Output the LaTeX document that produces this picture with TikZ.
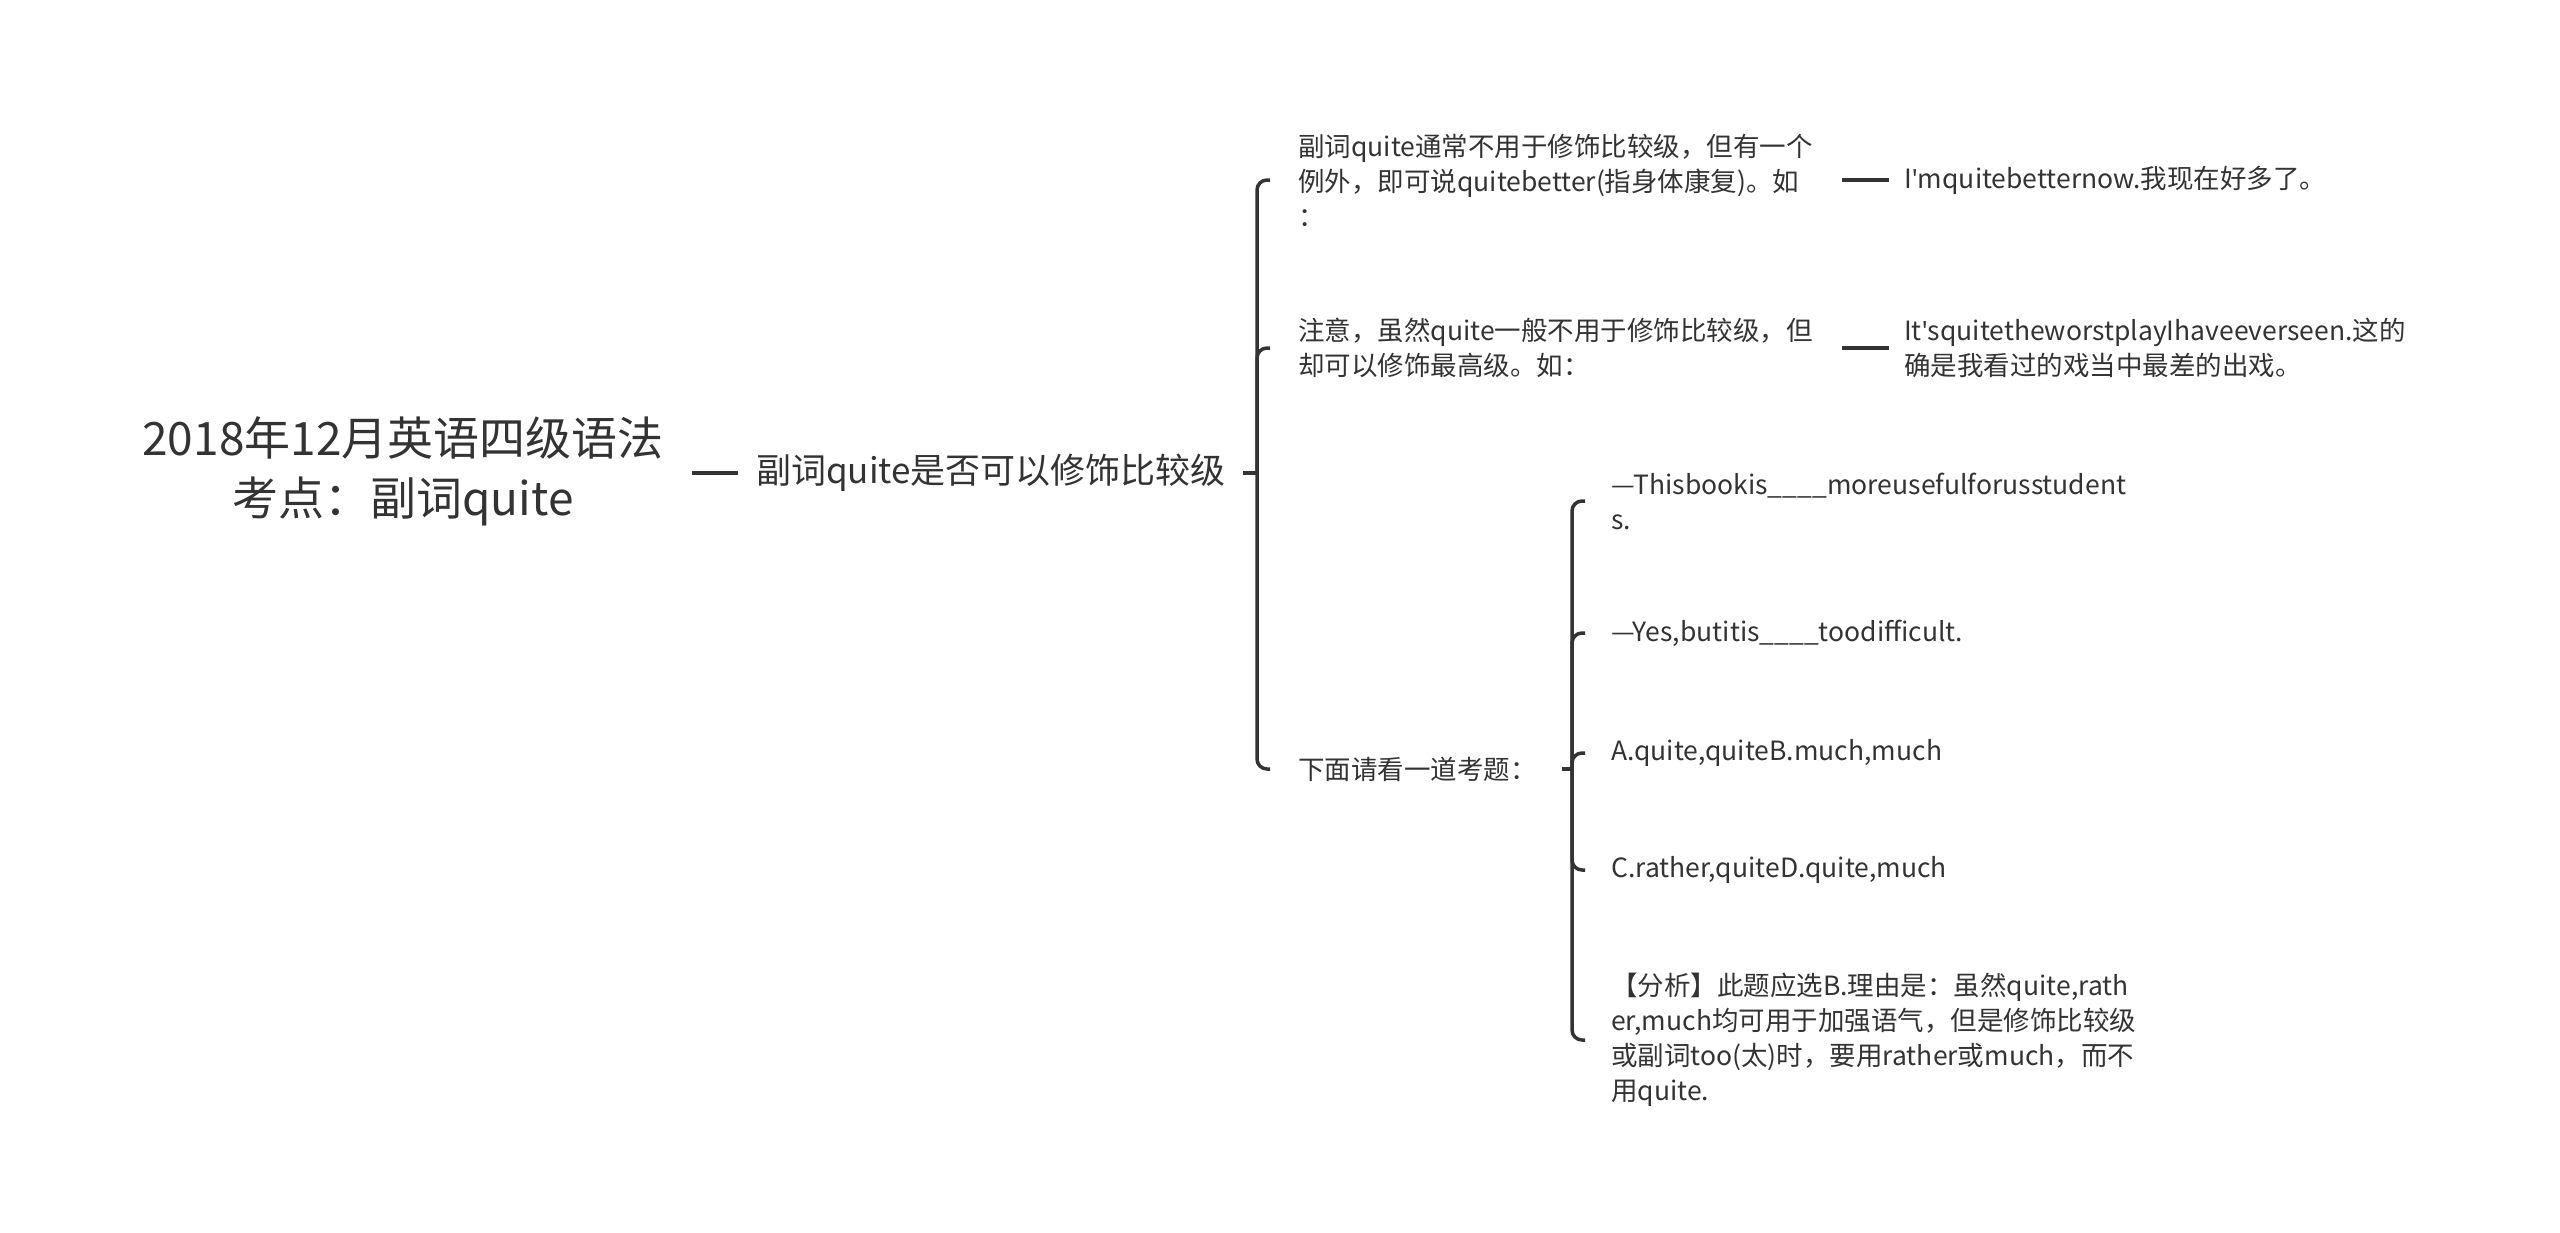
\documentclass[tikz,border=0pt]{standalone}
\usepackage{fontspec}
\setmainfont{Noto Sans CJK SC}
\newfontfamily\latinfont{Noto Sans}
\usetikzlibrary{positioning}
\definecolor{inkgray}{HTML}{333333}

\newcommand{\apos}{{\latinfont'}}

\tikzset{
  edge/.style={draw=inkgray, line width=3.5pt},
  fork/.style={edge, rounded corners=10pt},
  topic/.style={inner sep=0pt, text=inkgray, align=center, font=\fontsize{46}{60}\selectfont},
  branch/.style={inner sep=0pt, text=inkgray, anchor=west, align=left, font=\fontsize{35}{42}\selectfont},
  leaf/.style={inner sep=0pt, text=inkgray, anchor=west, align=left, font=\fontsize{26.5}{35}\selectfont},
  wideleaf/.style={leaf, text width=514pt},
}

\begin{document}
\begin{tikzpicture}[x=1pt, y=-1pt]
    \useasboundingbox (0,0) rectangle (2560,1232);
    % Root and first branch
    \node[topic] (root) at (403,471) {2018年12月英语四级语法\\考点：副词quite};
    \node[branch] (main) at (756,473) {副词quite是否可以修饰比较级};
    % Second level
    \node[wideleaf] (note1) at (1298,180) {副词quite通常不用于修饰比较级，但有一个\\例外，即可说quitebetter(指身体康复)。如\\：};
    \node[wideleaf] (note2) at (1298,348) {注意，虽然quite一般不用于修饰比较级，但\\却可以修饰最高级。如：};
    \node[leaf] (quiz) at (1298,769) {下面请看一道考题：};
    % Examples
    \node[leaf] (ex1) at (1904,180) {I\apos mquitebetternow.我现在好多了。};
    \node[leaf] (ex2) at (1904,348) {It\apos squitetheworstplayIhaveeverseen.这的\\确是我看过的戏当中最差的出戏。};
    % Quiz items
    \node[leaf] (q1) at (1611,501) {—Thisbookis\_\_\_\_moreusefulforusstudent\\s.};
    \node[leaf] (q2) at (1611,633) {—Yes,butitis\_\_\_\_toodifficult.};
    \node[leaf] (q3) at (1611,753) {A.quite,quiteB.much,much};
    \node[leaf] (q4) at (1611,870) {C.rather,quiteD.quite,much};
    \node[leaf] (q5) at (1611,1040) {【分析】此题应选B.理由是：虽然quite,rath\\er,much均可用于加强语气，但是修饰比较级\\或副词too(太)时，要用rather或much，而不\\用quite.};
    % Bracket points
    \coordinate (fork1) at (1257,473);
    \coordinate (fork2) at (1572,769);
    % Connectors
    \draw[edge] ([xshift=28]root.east |- main.west) -- ([xshift=-18]main.west);
    \draw[edge] ([xshift=17]main.east) -- (fork1);
    \foreach \n in {note1,note2,quiz}
        \draw[fork] (fork1) |- ([xshift=-28]\n.west);
    \draw[edge] ([xshift=30]note1.east) -- ([xshift=-15]ex1.west);
    \draw[edge] ([xshift=30]note2.east) -- ([xshift=-15]ex2.west);
    \draw[edge] ([xshift=25]quiz.east) -- (fork2);
    \foreach \n in {q1,q2,q3,q4,q5}
        \draw[fork] (fork2) |- ([xshift=-26]\n.west);
\end{tikzpicture}
\end{document}
